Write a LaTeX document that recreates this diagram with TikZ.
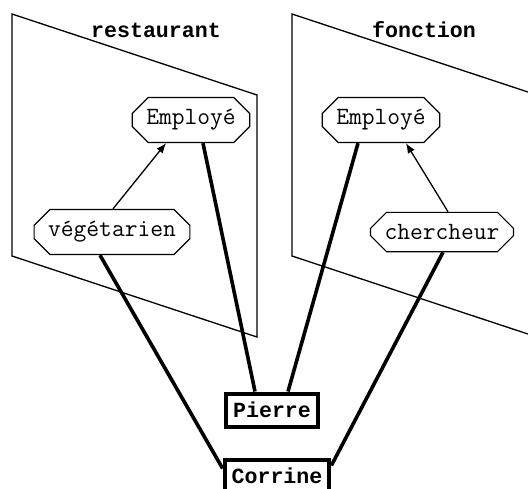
\documentclass[tikz,border=0pt]{standalone}
\usepackage{fontspec}
\newfontfamily\boldmono{Liberation Mono}
\usetikzlibrary{arrows.meta,shapes.misc}

\begin{document}
\begin{tikzpicture}[x=0.5pt,y=-0.5pt,>={Latex[length=5pt,width=4pt]},
  concept/.style={chamfered rectangle,chamfered rectangle xsep=4pt,chamfered rectangle ysep=4pt,
    draw,line width=0.6pt,fill=white,font=\fontsize{12.4}{14}\ttfamily,inner xsep=3pt,inner ysep=2pt,minimum height=16.5pt},
  person/.style={rectangle,draw,line width=2pt,fill=white,font=\fontsize{10.8}{13}\boldmono\bfseries,inner xsep=3.5pt,minimum height=16.5pt},
  plane/.style={line width=0.65pt},
  link/.style={line width=1.8pt},
  isa/.style={->,line width=0.65pt}]
\useasboundingbox (0,0) rectangle (528,488);
\draw[plane] (12,14)--(257,95)--(257,337)--(12,256)--cycle;
\draw[plane] (292,14)--(537,95)--(537,337)--(292,256)--cycle;
\node[font=\fontsize{10.8}{13}\boldmono\bfseries] (restaurant) at (156,30) {restaurant};
\node[font=\fontsize{10.8}{13}\boldmono\bfseries] (fonction) at (424,30) {fonction};
\node[concept] (empR) at (191,120) {Employé};
\node[concept] (veg) at (112,232) {végétarien};
\node[concept] (empF) at (381,120) {Employé};
\node[concept] (cher) at (442,232) {chercheur};
\node[person] (pierre) at (272,410) {Pierre};
\node[person] (corrine) at (277,476) {Corrine};
\draw[isa] ([xshift=0.5pt]veg.north) -- ([xshift=-12.5pt]empR.south);
\draw[isa] ([xshift=3pt]cher.north) -- ([xshift=12.5pt]empF.south);
\draw[link] ([xshift=6pt]empR.south) -- ([xshift=-8.5pt]pierre.north);
\draw[link] ([xshift=-11.5pt]empF.south) -- ([xshift=8pt]pierre.north);
\draw[link] ([xshift=-6pt]veg.south) -- ([yshift=-5.5pt]corrine.north west);
\draw[link] ([xshift=0.5pt]cher.south) -- ([yshift=-4pt]corrine.north east);
\end{tikzpicture}
\end{document}
